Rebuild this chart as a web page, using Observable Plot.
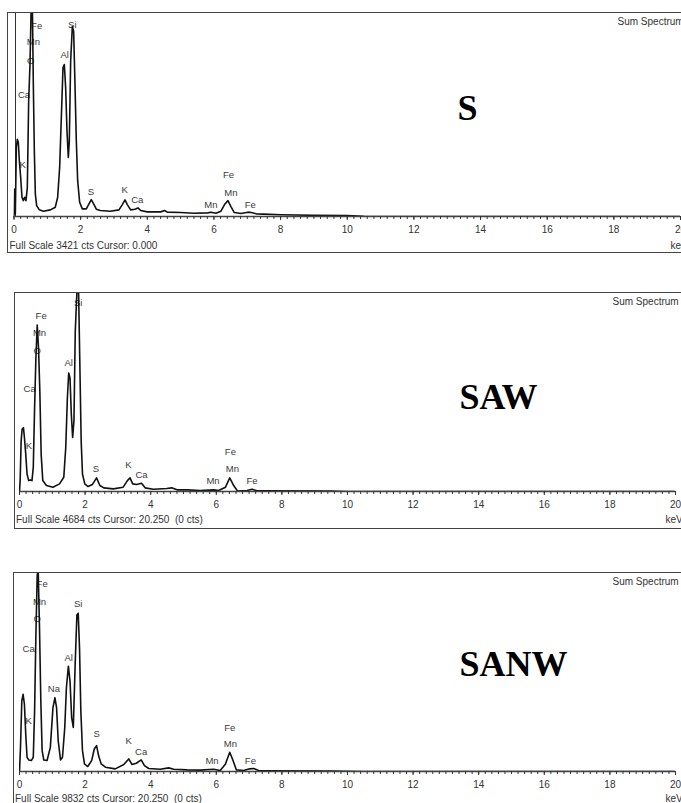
<!DOCTYPE html>
<html>
<head>
<meta charset="utf-8">
<script src="https://cdn.jsdelivr.net/npm/d3@7"></script>
<script src="https://cdn.jsdelivr.net/npm/@observablehq/plot@0.6"></script>
<style>
  html, body { margin: 0; padding: 0; background: #fff; }
  #root { position: relative; width: 681px; height: 803px; overflow: hidden; background: #fff; }
  .panel { position: absolute; border: 1px solid #444; background: #fff; }
  .panel svg { display: block; }
</style>
</head>
<body>
<div id="root"></div>
<script>
// ---------- data ----------
const sampleNames = ["S", "SAW", "SANW"];
const fullScales = [3421, 4684, 9832];
const cursors = [0, 20.25, 20.25];
const footerTexts = [
  "Full Scale 3421 cts Cursor: 0.000",
  "Full Scale 4684 cts Cursor: 20.250\u00a0 (0 cts)",
  "Full Scale 9832 cts Cursor: 20.250\u00a0 (0 cts)"
];
const majorTicks = [0, 2, 4, 6, 8, 10, 12, 14, 16, 18, 20];
const minorTicks = d3.range(0, 101).map(i => i / 5);

// Spectrum S
const S_keV = [0.00,0.02,0.04,0.07,0.10,0.13,0.16,0.20,0.24,0.28,0.32,0.36,0.40,0.44,0.48,0.51,0.53,0.55,0.58,0.61,0.64,0.68,0.76,0.88,1.09,1.24,1.31,1.37,1.42,1.47,1.51,1.55,1.59,1.63,1.66,1.70,1.75,1.79,1.83,1.87,1.91,1.97,2.05,2.17,2.25,2.32,2.39,2.47,2.59,2.89,3.15,3.25,3.33,3.40,3.50,3.63,3.72,3.80,4.00,4.40,4.52,4.60,5.00,5.41,5.81,5.91,6.06,6.21,6.33,6.42,6.51,6.61,6.81,7.02,7.12,7.27,7.50,8.00,9.00,10.0,10.5,12.0,20.0];
const S_cts = [0,464,45,1163,1303,1246,939,660,324,268,324,268,492,1945,2561,3399,3600,3600,2225,1107,380,184,112,89,112,157,324,827,1666,2504,2561,2169,1443,995,1275,2616,3203,3119,2225,1275,604,240,128,128,212,285,212,123,101,89,112,201,279,201,112,123,145,101,78,78,101,73,67,56,61,73,56,89,212,268,168,67,50,73,67,45,40,30,20,15,5,0,0];

// Spectrum SAW
const SAW_keV = [0.00,0.02,0.05,0.08,0.12,0.15,0.19,0.23,0.28,0.33,0.38,0.42,0.46,0.50,0.54,0.58,0.62,0.66,0.71,0.82,1.02,1.22,1.35,1.41,1.46,1.50,1.54,1.58,1.62,1.66,1.70,1.76,1.80,1.84,1.88,1.92,1.99,2.09,2.22,2.35,2.45,2.57,2.86,3.16,3.29,3.37,3.45,3.57,3.72,3.83,4.08,4.49,4.64,4.80,5.10,5.51,5.92,6.07,6.28,6.41,6.53,6.65,6.94,7.09,7.24,7.50,9.50,10.0,20.0];
const SAW_cts = [0,258,1198,1472,1511,1277,885,415,258,274,258,572,1982,3157,3940,3391,2373,885,258,141,102,180,337,1042,2217,2804,2687,1825,1277,1668,3783,4900,4800,3000,1198,415,180,117,164,321,141,86,63,102,258,321,180,164,196,86,55,70,86,39,39,23,39,23,102,321,141,8,23,55,16,15,10,0,0];

// Spectrum SANW
const SANW_keV = [0.00,0.03,0.07,0.11,0.15,0.19,0.23,0.28,0.36,0.42,0.46,0.50,0.54,0.57,0.61,0.65,0.69,0.74,0.84,0.94,1.02,1.08,1.13,1.18,1.25,1.31,1.38,1.43,1.49,1.54,1.59,1.64,1.70,1.75,1.79,1.83,1.87,1.92,1.98,2.08,2.20,2.28,2.35,2.41,2.49,2.62,2.92,3.18,3.33,3.43,3.56,3.71,3.81,3.94,4.29,4.55,4.70,5.11,5.51,5.92,6.12,6.28,6.41,6.51,6.61,6.83,7.02,7.14,7.29,7.50,9.50,10.0,10.5,20.0];
const SANW_cts = [0,1200,3502,3831,3337,1858,707,575,543,707,3009,6790,9750,10000,7120,3502,1036,575,543,1200,3173,3666,3173,1529,575,707,2187,4160,5229,4489,2680,2187,5475,7777,7859,6132,3009,1036,378,247,543,1118,1282,789,378,214,132,345,625,345,411,575,296,148,115,181,115,82,66,115,49,378,954,543,82,49,132,148,49,40,20,10,0,0];

// Element labels (name, energy keV, label height in cts)
const S_lblText = ["Fe","Mn","O","Ca","K","Al","Si","S","K","Ca","Mn","Fe","Mn","Fe"];
const S_lblKeV  = [0.68,0.58,0.50,0.30,0.26,1.52,1.75,2.31,3.32,3.70,5.91,6.44,6.51,7.09];
const S_lblCts  = [3216,2942,2627,2056,872,2727,3229,414,448,281,202,705,390,202];

const SAW_lblText = ["Fe","Mn","O","Ca","K","Al","Si","S","K","Ca","Mn","Fe","Mn","Fe"];
const SAW_lblKeV  = [0.66,0.61,0.54,0.31,0.29,1.50,1.79,2.33,3.32,3.72,5.90,6.43,6.49,7.09];
const SAW_lblCts  = [4150,3747,3335,2426,1087,3040,4450,525,628,398,258,932,534,258];

const SANW_lblText = ["Fe","Mn","O","Ca","Na","K","Al","Si","S","K","Ca","Mn","Fe","Mn","Fe"];
const SANW_lblKeV  = [0.69,0.61,0.54,0.28,1.05,0.28,1.50,1.79,2.35,3.33,3.71,5.87,6.41,6.43,7.04];
const SANW_lblCts  = [9291,8436,7580,6096,4080,2517,5644,8308,1858,1534,983,541,2183,1367,541];

// ---------- layout (styling only) ----------
const layouts = [
  {left: 7,  top: 12,  w: 700, h: 239, ml: 5.5, mr: 28, mb: 36, nameDx: 443.5, nameDy: 94.5, footDx: -4.5, footDy: 29, sumDx: -63},
  {left: 14, top: 292, w: 700, h: 235, ml: 4,   mr: 40, mb: 37, nameDx: 440,   nameDy: 103.5, footDx: -3.5, footDy: 28, sumDx: -63},
  {left: 13, top: 572, w: 700, h: 235, ml: 5,   mr: 39, mb: 37, nameDx: 440,   nameDy: 90.5, footDx: -4.5, footDy: 27, sumDx: -63}
];

const spectra = [
  {keV: S_keV, cts: S_cts, lt: S_lblText, lk: S_lblKeV, lc: S_lblCts},
  {keV: SAW_keV, cts: SAW_cts, lt: SAW_lblText, lk: SAW_lblKeV, lc: SAW_lblCts},
  {keV: SANW_keV, cts: SANW_cts, lt: SANW_lblText, lk: SANW_lblKeV, lc: SANW_lblCts}
];

const sans = "'Liberation Sans', Arial, sans-serif";
const root = document.getElementById("root");

spectra.forEach((sp, i) => {
  const L = layouts[i];
  const data = sp.keV.map((k, j) => ({keV: k, cts: sp.cts[j]}));
  const labels = sp.lt.map((t, j) => ({t, keV: sp.lk[j], cts: sp.lc[j]}));
  const svg = Plot.plot({
    width: L.w, height: L.h,
    marginLeft: L.ml, marginRight: L.mr, marginTop: 0, marginBottom: L.mb,
    style: {background: "#fff", color: "#333", fontFamily: sans, fontSize: "10px"},
    x: {domain: [0, 20], axis: null, label: null},
    y: {domain: [0, fullScales[i]], axis: null, label: null},
    marks: [
      Plot.ruleX([cursors[i]], {stroke: "#333", strokeWidth: 1, dx: 1.5, clip: true}),
      Plot.text(labels, {x: "keV", y: "cts", text: "t", fontSize: 9.5, fill: "#3a3a3a", fontFamily: sans}),
      Plot.line(data, {x: "keV", y: "cts", stroke: "#111", strokeWidth: 1.6, clip: true}),
      Plot.ruleY([0], {stroke: "#444", strokeWidth: 1.3}),
      Plot.axisX({ticks: minorTicks, tickSize: 3, tickFormat: () => "", label: null, stroke: "#333", strokeWidth: 1}),
      Plot.axisX({ticks: majorTicks, tickSize: 4, tickPadding: 5, label: null, fontSize: 10, fill: "#333", stroke: "#333"}),
      Plot.text([footerTexts[i]], {frameAnchor: "bottom-left", textAnchor: "start", lineAnchor: "middle", dx: L.footDx, dy: L.footDy, fontSize: 10, fill: "#333", fontFamily: sans}),
      Plot.text(["keV"], {frameAnchor: "bottom-right", textAnchor: "start", lineAnchor: "middle", dx: -10, dy: L.footDy, fontSize: 10, fill: "#333", fontFamily: sans}),
      Plot.text(["Sum Spectrum"], {frameAnchor: "top-right", textAnchor: "start", lineAnchor: "middle", dx: L.sumDx, dy: 8, fontSize: 10, fill: "#333", fontFamily: sans}),
      Plot.text([sampleNames[i]], {frameAnchor: "top-left", textAnchor: "start", lineAnchor: "middle", dx: L.nameDx, dy: L.nameDy, fontSize: 36, fontWeight: "bold", fill: "#000", fontFamily: "'Liberation Serif', 'Times New Roman', serif"})
    ]
  });
  const div = document.createElement("div");
  div.className = "panel";
  div.style.left = L.left + "px";
  div.style.top = L.top + "px";
  div.style.width = L.w + "px";
  div.style.height = L.h + "px";
  div.appendChild(svg);
  root.appendChild(div);
});
</script>
</body>
</html>
